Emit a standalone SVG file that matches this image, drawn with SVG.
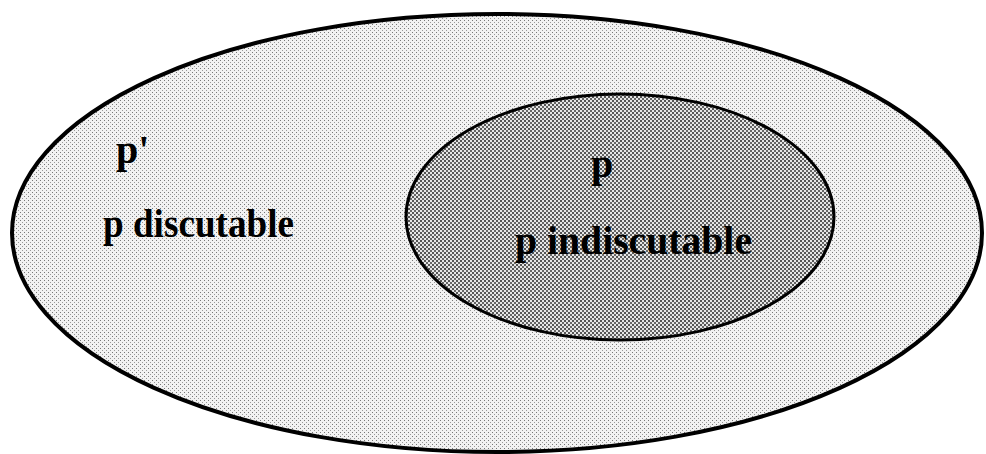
<svg xmlns="http://www.w3.org/2000/svg" width="986" height="454" viewBox="0 0 986 454">
  <defs>
    <pattern id="light" width="4" height="4" patternUnits="userSpaceOnUse">
      <rect width="4" height="4" fill="#f2f2f2"/>
      <rect x="0" y="0" width="1" height="1" fill="#777"/>
      <rect x="2" y="2" width="1" height="1" fill="#999"/>
    </pattern>
    <pattern id="dark" width="4" height="4" patternUnits="userSpaceOnUse">
      <rect width="4" height="4" fill="#e6e6e6"/>
      <rect x="0" y="0" width="2" height="2" fill="#555"/>
      <rect x="2" y="2" width="2" height="2" fill="#666"/>
    </pattern>
    <style>
      .lbl { font-family: "Liberation Serif", "Times New Roman", serif; font-weight: bold; font-size: 40px; fill: #000; }
      .ell { stroke: #000; }
    </style>
  </defs>
  <rect width="986" height="454" fill="#fff"/>
  <g id="outer">
    <ellipse class="ell" cx="497" cy="233" rx="485" ry="219" fill="url(#light)" stroke-width="4"/>
    <text class="lbl" x="116" y="163">p'</text>
    <text class="lbl" x="103" y="237" textLength="191" lengthAdjust="spacingAndGlyphs">p discutable</text>
  </g>
  <g id="inner">
    <ellipse class="ell" cx="620" cy="217" rx="214" ry="123" fill="url(#dark)" stroke-width="3"/>
    <text class="lbl" x="591" y="177">p</text>
    <text class="lbl" x="515" y="254" textLength="237" lengthAdjust="spacingAndGlyphs">p indiscutable</text>
  </g>
  <g id="connectors"/>
</svg>
